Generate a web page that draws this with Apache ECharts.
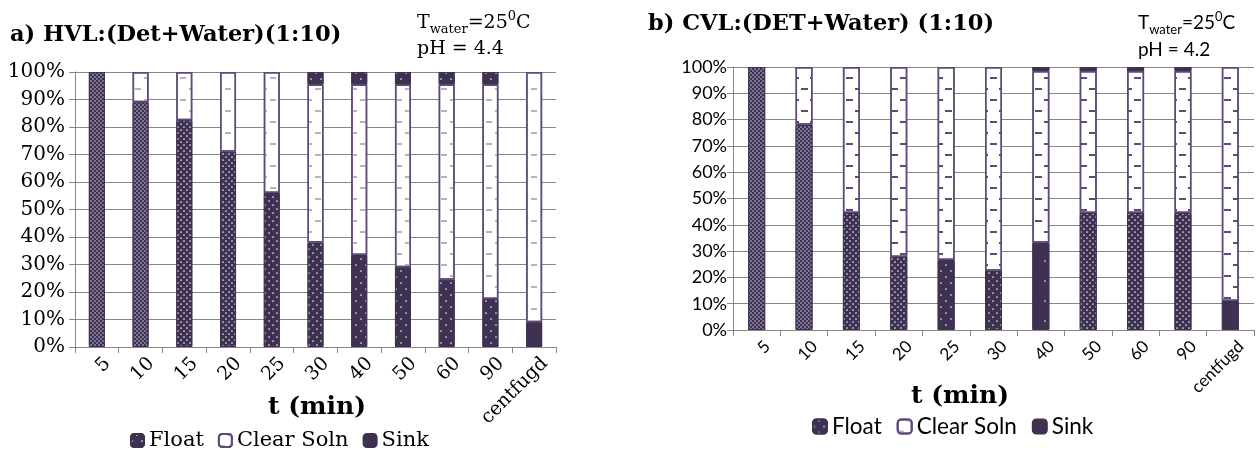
<!DOCTYPE html>
<html><head><meta charset="utf-8">
<script src="https://cdn.jsdelivr.net/npm/echarts@6/dist/echarts.min.js"></script>
<style>html,body{margin:0;padding:0;background:#fff}#main{width:1258px;height:449px}</style>
</head><body><div id="main"></div>
<script>
// ---- data ----
const categories = ['5','10','15','20','25','30','40','50','60','90','centfugd'];
const seriesNames = ['Float','Clear Soln','Sink'];
// chart a) HVL
const floatA = [100, 89, 82.5, 71, 56, 38, 33.5, 29, 24.5, 17.5, 9];
const clearA = [0, 11, 17.5, 29, 44, 57.5, 62, 66.5, 71, 78, 91];
const sinkA  = [0, 0, 0, 0, 0, 4.5, 4.5, 4.5, 4.5, 4.5, 0];
// chart b) CVL
const floatB = [100, 78, 44.5, 27.8, 26.6, 22.5, 33.2, 44.5, 44.5, 44.5, 11];
const clearB = [0, 22, 55.5, 72.2, 73.4, 77.5, 65.3, 54, 54, 54, 89];
const sinkB  = [0, 0, 0, 0, 0, 0, 1.5, 1.5, 1.5, 1.5, 0];
// fill pattern of the lower segment of every bar
const patA = ['cross','cross','dense','dense','medium','medium','sparse','sparse','sparse','sparse','solid'];
const patB = ['cross','cross','dense','dense','sparse','medium','vsparse','dense','dense','dense','solid'];

// ---- styles ----
const DARK = '#3f3151', EDGE = '#5f497a', GRID = '#868686';
const SERIF = 'DejaVu Serif', SANS = 'Lato';
const dot = '#ece8f2';
const decals = {
  cross:  {symbol:'diamond', symbolSize:1, color:'#bdb5c9', dashArrayX:[[2,2],[0,2,2,0]], dashArrayY:[2,0]},
  dense:  {symbol:'circle', symbolSize:0.85, color:dot, dashArrayX:[[2,4],[0,3,2,1]], dashArrayY:[2,1]},
  medium: {symbol:'circle', symbolSize:0.85, color:dot, dashArrayX:[[2,6],[0,4,2,2]], dashArrayY:[2,2]},
  sparse: {symbol:'circle', symbolSize:0.85, color:dot, dashArrayX:[[2,8],[0,5,2,3]], dashArrayY:[2,4]},
  vsparse:{symbol:'circle', symbolSize:0.85, color:dot, dashArrayX:[[2,16]], dashArrayY:[2,18]},
  solid:  {symbol:'none'}
};
const clearDecalA = {symbol:'rect', symbolKeepAspect:false, symbolSize:1, color:'#b4b4b4', dashArrayX:[[6,12],[0,9,6,3]], dashArrayY:[2,9]};
const clearDecalB = {symbol:'rect', symbolKeepAspect:false, symbolSize:1, color:'#604a7b', dashArrayX:[[7,11],[0,9,7,2]], dashArrayY:[2,9]};

function nz(v){ return v === 0 ? '-' : v; }

function makeSeries(idx, fl, cl, sk, pats, clearDecal, bw) {
  const common = {type:'bar', stack:'s'+idx, xAxisIndex:idx, yAxisIndex:idx, barWidth:bw, animation:false};
  return [
    Object.assign({}, common, {
      name:'Float',
      itemStyle:{color:DARK, borderColor:DARK, borderWidth:1, decal:decals.sparse},
      data: fl.map((v,i)=>({value:nz(v), itemStyle:{decal:decals[pats[i]]}}))
    }),
    Object.assign({}, common, {
      name:'Clear Soln',
      itemStyle:{color:'#ffffff', borderColor:EDGE, borderWidth:1.5, decal:clearDecal},
      data: cl.map(nz)
    }),
    Object.assign({}, common, {
      name:'Sink',
      itemStyle:{color:DARK, borderColor:DARK, borderWidth:1},
      data: sk.map(v=>({value:nz(v), itemStyle:{decal:decals.sparse}}))
    })
  ];
}

function yAxis(idx, font, size, margin) {
  return {
    type:'value', gridIndex:idx, min:0, max:100, interval:10,
    axisLine:{show:true, lineStyle:{color:GRID, width:1}},
    axisTick:{show:true, length:6, lineStyle:{color:GRID}},
    splitLine:{show:true, lineStyle:{color:GRID, width:1}},
    axisLabel:{formatter:'{value}%', fontFamily:font, fontSize:size, color:'#000', margin:margin}
  };
}
function xAxis(idx, font, size) {
  return {
    type:'category', gridIndex:idx, data:categories,
    axisLine:{show:true, lineStyle:{color:GRID, width:1}},
    axisTick:{show:true, length:6, interval:0, lineStyle:{color:GRID}},
    axisLabel:{interval:0, rotate:45, fontFamily:font, fontSize:size, color:'#000',
               margin:3, verticalAlign:'top', lineHeight:30}
  };
}
function richT(font, size) {
  return {
    t:{fontFamily:font, fontSize:size, fontWeight:'normal', color:'#000', lineHeight:26, verticalAlign:'middle'},
    sub:{fontFamily:font, fontSize:13, fontWeight:'normal', color:'#000', lineHeight:12, verticalAlign:'bottom'},
    sup:{fontFamily:font, fontSize:13, fontWeight:'normal', color:'#000', lineHeight:14, verticalAlign:'top'}
  };
}

const chart = echarts.init(document.getElementById('main'), null, {renderer:'canvas'});
chart.setOption({
  animation:false,
  backgroundColor:'#fff',
  grid:[
    {left:75, top:72, width:481, height:275},
    {left:733, top:67, width:521, height:263}
  ],
  xAxis:[xAxis(0, SERIF, 19), xAxis(1, SANS, 17)],
  yAxis:[yAxis(0, SERIF, 20, 10), yAxis(1, SANS, 18, 6)],
  legend:[
    {data:[{name:'Float', itemStyle:{decal:decals.sparse}}, 'Clear Soln', 'Sink'], selectedMode:false,
     left:125, top:425, itemWidth:13, itemHeight:13, itemGap:14,
     textStyle:{fontFamily:SERIF, fontSize:21, color:'#000'}},
    {data:[{name:'Float', itemStyle:{decal:decals.sparse}}, 'Clear Soln', 'Sink'], selectedMode:false,
     left:807, top:410, itemWidth:14, itemHeight:14, itemGap:15,
     textStyle:{fontFamily:SANS, fontSize:22.5, color:'#000'}}
  ],
  title:[
    {text:'a) HVL:(Det+Water)(1:10)', left:5, top:16,
     textStyle:{fontFamily:SERIF, fontWeight:'bold', fontSize:22.5, color:'#000', lineHeight:28}},
    {text:'{t|T}{sub|water}{t|=25}{sup|0}{t|C}', left:412, top:5,
     textStyle:{fontWeight:'normal', rich:richT(SERIF, 19)}},
    {text:'pH = 4.4', left:412, top:31,
     textStyle:{fontFamily:SERIF, fontSize:19, fontWeight:'normal', color:'#000', lineHeight:26}},
    {text:'t (min)', left:312, top:388, textAlign:'center',
     textStyle:{fontFamily:SERIF, fontWeight:'bold', fontSize:25, color:'#000', lineHeight:28}},
    {text:'b) CVL:(DET+Water) (1:10)', left:643, top:5,
     textStyle:{fontFamily:SERIF, fontWeight:'bold', fontSize:22.5, color:'#000', lineHeight:28}},
    {text:'{t|T}{sub|water}{t|=25}{sup|0}{t|C}', left:1133, top:5,
     textStyle:{fontWeight:'normal', rich:richT(SANS, 19)}},
    {text:'pH = 4.2', left:1133, top:32,
     textStyle:{fontFamily:SANS, fontSize:19, fontWeight:'normal', color:'#000', lineHeight:26}},
    {text:'t (min)', left:955, top:377, textAlign:'center',
     textStyle:{fontFamily:SERIF, fontWeight:'bold', fontSize:25, color:'#000', lineHeight:28}}
  ],
  series:[].concat(
    makeSeries(0, floatA, clearA, sinkA, patA, clearDecalA, 16),
    makeSeries(1, floatB, clearB, sinkB, patB, clearDecalB, 17)
  )
});
</script></body></html>
